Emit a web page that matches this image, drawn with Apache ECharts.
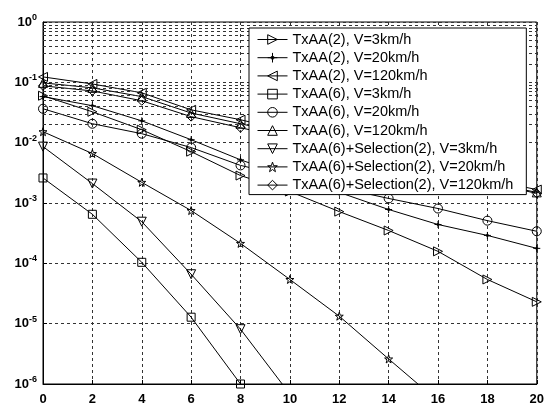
<!DOCTYPE html>
<html><head><meta charset="utf-8">
<script src="https://cdn.jsdelivr.net/npm/echarts@6/dist/echarts.min.js"></script>
<style>html,body{margin:0;padding:0;background:#fff}#c{width:547px;height:406px}</style>
</head><body><div id="c"></div>
<script>
// x positions (dB)
const xValues = [0, 2, 4, 6, 8, 10, 12, 14, 16, 18, 20];
const xTickLabels = ['0','2','4','6','8','10','12','14','16','18','20'];
const seriesNames = [
  'TxAA(2), V=3km/h',
  'TxAA(2), V=20km/h',
  'TxAA(2), V=120km/h',
  'TxAA(6), V=3km/h',
  'TxAA(6), V=20km/h',
  'TxAA(6), V=120km/h',
  'TxAA(6)+Selection(2), V=3km/h',
  'TxAA(6)+Selection(2), V=20km/h',
  'TxAA(6)+Selection(2), V=120km/h'
];
// values (one per x position, starting at x=0)
const txaa2_v3    = [0.060, 0.0325, 0.0164, 0.0071, 0.00285, 0.00155, 0.00072, 0.00035, 0.000158, 5.4e-5, 2.3e-5];
const txaa2_v20   = [0.058, 0.041, 0.023, 0.0112, 0.0052, 0.0027, 0.0015, 0.00078, 0.00044, 0.00029, 0.000177];
const txaa2_v120  = [0.123, 0.094, 0.067, 0.035, 0.024, 0.0152, 0.0096, 0.0061, 0.0039, 0.00245, 0.00167];
const txaa6_v3    = [0.0026, 0.00065, 0.000104, 1.28e-5, 1.0e-6];
const txaa6_v20   = [0.0365, 0.0206, 0.0141, 0.0083, 0.0042, 0.0027, 0.0018, 0.00119, 0.00081, 0.00051, 0.00034];
const txaa6_v120  = [0.098, 0.081, 0.058, 0.031, 0.0206, 0.0136, 0.0086, 0.0054, 0.0035, 0.0022, 0.0015];
const sel_v3      = [0.0086, 0.0021, 0.00049, 6.6e-5, 8.1e-6, 6.8e-7];
const sel_v20     = [0.0152, 0.0066, 0.0022, 0.00075, 0.000214, 5.4e-5, 1.33e-5, 2.6e-6, 5.2e-7];
const sel_v120    = [0.0875, 0.072, 0.0495, 0.027, 0.0177, 0.0116, 0.0077, 0.0050, 0.0033, 0.0022, 0.00144];
const seriesValues = [txaa2_v3, txaa2_v20, txaa2_v120, txaa6_v3, txaa6_v20, txaa6_v120, sel_v3, sel_v20, sel_v120];

const SYM = {
  right: 'path://M0,0L10,5L0,10Z',
  plus: 'path://M5,1L5,9M1,5L9,5M4,4L6,4L6,6L4,6Z',
  left: 'path://M10,0L0,5L10,10Z',
  square: 'rect',
  circle: 'circle',
  up: 'path://M5,0L10,10L0,10Z',
  down: 'path://M0,0L10,0L5,10Z',
  star: 'path://M5,0L6.176,3.382L9.755,3.455L6.902,5.618L7.939,9.045L5,7L2.061,9.045L3.098,5.618L0.245,3.455L3.824,3.382Z',
  diamond: 'diamond'
};
const symbols = [SYM.right, SYM.plus, SYM.left, SYM.square, SYM.circle, SYM.up, SYM.down, SYM.star, SYM.diamond];
const symbolSizes = [9, 7, 9, 8, 9, 9, 9, 8, 9];

// minor log grid lines (2..9 x 10^k)
const minorLines = [];
for (let k = -6; k < 0; k++) for (let m = 2; m <= 9; m++) minorLines.push({ yAxis: m * Math.pow(10, k) });

const FONT = 'Liberation Sans, Arial, sans-serif';
const gridStyle = { color: '#333', width: 1, type: [3, 3] };

const series = seriesNames.map((name, i) => ({
  name: name,
  type: 'line',
  data: seriesValues[i].map((v, j) => [xValues[j], v]),
  symbol: symbols[i],
  symbolSize: symbolSizes[i],
  showAllSymbol: true,
  clip: true,
  z: 3,
  lineStyle: { color: '#000', width: 1 },
  itemStyle: { color: 'rgba(255,255,255,0)', borderColor: '#000', borderWidth: 1 },
  emphasis: { disabled: true },
  animation: false
}));
series.push({
  name: '_grid',
  type: 'line',
  data: [],
  silent: true,
  z: 1,
  markLine: {
    silent: true, symbol: 'none', animation: false,
    label: { show: false },
    lineStyle: gridStyle,
    emphasis: { disabled: true },
    data: minorLines
  }
});

const chart = echarts.init(document.getElementById('c'), null, { renderer: 'canvas' });
chart.setOption({
  animation: false,
  backgroundColor: '#fff',
  grid: { left: 43, right: 10, top: 22, bottom: 21, show: true, borderColor: '#000', borderWidth: 1, backgroundColor: 'transparent' },
  legend: {
    data: seriesNames,
    orient: 'vertical',
    left: 249, top: 28,
    padding: [4, 13, 2, 8],
    itemGap: 3.2,
    itemWidth: 30, itemHeight: 12,
    backgroundColor: '#fff',
    borderColor: '#000', borderWidth: 1,
    borderRadius: 0,
    itemStyle: { borderWidth: 1 },
    lineStyle: { width: 1 },
    textStyle: { fontFamily: FONT, fontSize: 14.5, color: '#000' },
    selectedMode: false,
    z: 10
  },
  xAxis: {
    type: 'value', min: 0, max: 20, interval: 2,
    axisLine: { show: true, lineStyle: { color: '#000', width: 1 } },
    axisTick: { show: true, inside: true, length: 4, lineStyle: { color: '#000' } },
    axisLabel: { margin: 9, fontFamily: FONT, fontSize: 13, fontWeight: 'bold', color: '#000',
      formatter: v => xTickLabels[xValues.indexOf(v)] },
    splitLine: { show: true, lineStyle: gridStyle }
  },
  yAxis: {
    type: 'log', logBase: 10, min: 1e-6, max: 1,
    axisLine: { show: true, lineStyle: { color: '#000', width: 1 } },
    axisTick: { show: true, inside: true, length: 4, lineStyle: { color: '#000' } },
    axisLabel: {
      margin: 6, color: '#000',
      formatter: v => '{b|10}{s|' + Math.round(Math.log10(v)) + '}',
      rich: {
        b: { fontFamily: FONT, fontSize: 13, fontWeight: 'bold', color: '#000' },
        s: { fontFamily: FONT, fontSize: 9, fontWeight: 'bold', color: '#000', padding: [0, 0, 9, 0] }
      }
    },
    splitLine: { show: true, lineStyle: gridStyle }
  },
  series: series
});
</script></body></html>
